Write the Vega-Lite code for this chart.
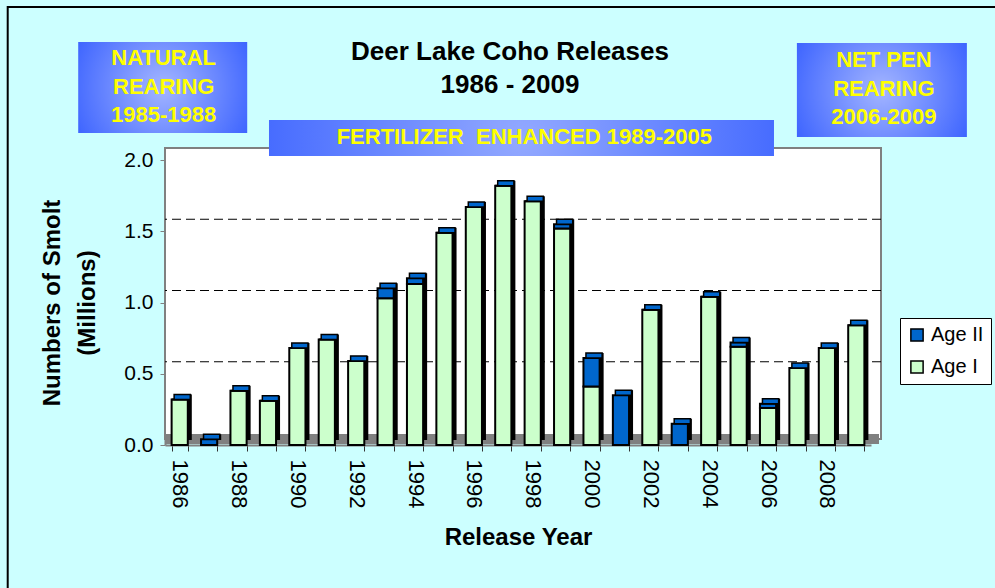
{
  "$schema": "https://vega.github.io/schema/vega-lite/v6.json",
  "autosize": {"type": "none"},
  "padding": {"left": 165, "top": 160, "right": 124, "bottom": 143},
  "width": 706,
  "height": 285,
  "background": "#CCFFFF",
  "title": {
    "text": ["Deer Lake Coho Releases", "1986 - 2009"],
    "fontSize": 26,
    "fontWeight": "bold",
    "color": "black",
    "anchor": "middle",
    "frame": "group",
    "lineHeight": 33,
    "dx": -8,
    "offset": -92
  },
  "config": {
    "font": "Liberation Sans",
    "view": {"stroke": null}
  },
  "datasets": {
    "smolt": [
      {"year": 1986, "age": "Age I", "value": 0.32}, {"year": 1986, "age": "Age II", "value": 0},
      {"year": 1987, "age": "Age I", "value": 0}, {"year": 1987, "age": "Age II", "value": 0.04},
      {"year": 1988, "age": "Age I", "value": 0.38}, {"year": 1988, "age": "Age II", "value": 0},
      {"year": 1989, "age": "Age I", "value": 0.31}, {"year": 1989, "age": "Age II", "value": 0},
      {"year": 1990, "age": "Age I", "value": 0.68}, {"year": 1990, "age": "Age II", "value": 0},
      {"year": 1991, "age": "Age I", "value": 0.74}, {"year": 1991, "age": "Age II", "value": 0},
      {"year": 1992, "age": "Age I", "value": 0.59}, {"year": 1992, "age": "Age II", "value": 0},
      {"year": 1993, "age": "Age I", "value": 1.03}, {"year": 1993, "age": "Age II", "value": 0.07},
      {"year": 1994, "age": "Age I", "value": 1.13}, {"year": 1994, "age": "Age II", "value": 0.04},
      {"year": 1995, "age": "Age I", "value": 1.49}, {"year": 1995, "age": "Age II", "value": 0},
      {"year": 1996, "age": "Age I", "value": 1.67}, {"year": 1996, "age": "Age II", "value": 0},
      {"year": 1997, "age": "Age I", "value": 1.82}, {"year": 1997, "age": "Age II", "value": 0},
      {"year": 1998, "age": "Age I", "value": 1.71}, {"year": 1998, "age": "Age II", "value": 0},
      {"year": 1999, "age": "Age I", "value": 1.52}, {"year": 1999, "age": "Age II", "value": 0.03},
      {"year": 2000, "age": "Age I", "value": 0.41}, {"year": 2000, "age": "Age II", "value": 0.2},
      {"year": 2001, "age": "Age I", "value": 0}, {"year": 2001, "age": "Age II", "value": 0.35},
      {"year": 2002, "age": "Age I", "value": 0.95}, {"year": 2002, "age": "Age II", "value": 0},
      {"year": 2003, "age": "Age I", "value": 0}, {"year": 2003, "age": "Age II", "value": 0.15},
      {"year": 2004, "age": "Age I", "value": 1.04}, {"year": 2004, "age": "Age II", "value": 0},
      {"year": 2005, "age": "Age I", "value": 0.69}, {"year": 2005, "age": "Age II", "value": 0.03},
      {"year": 2006, "age": "Age I", "value": 0.26}, {"year": 2006, "age": "Age II", "value": 0.03},
      {"year": 2007, "age": "Age I", "value": 0.54}, {"year": 2007, "age": "Age II", "value": 0},
      {"year": 2008, "age": "Age I", "value": 0.68}, {"year": 2008, "age": "Age II", "value": 0},
      {"year": 2009, "age": "Age I", "value": 0.84}, {"year": 2009, "age": "Age II", "value": 0}
    ]
  },
  "layer": [
    {
      "data": {"name": "smolt"},
      "mark": {"type": "bar", "opacity": 0},
      "encoding": {
        "x": {
          "field": "year",
          "type": "ordinal",
          "title": "Release Year",
          "scale": {"paddingInner": 0.45, "paddingOuter": 0.225},
          "axis": {
            "labelAngle": 90,
            "labelAlign": "left",
            "labelBaseline": "middle",
            "labelFontSize": 22,
            "labelColor": "black",
            "labelPadding": 8,
            "labelOverlap": false,
            "labelExpr": "datum.value % 2 == 0 ? datum.label : ''",
            "tickBand": "extent",
            "tickSize": 6,
            "tickColor": "#333333",
            "domainColor": "#808080",
            "domainWidth": 2,
            "titleFontSize": 24,
            "titleFontWeight": "bold",
            "titleColor": "black",
            "titlePadding": 18
          }
        },
        "y": {
          "aggregate": "sum",
          "field": "value",
          "type": "quantitative",
          "title": ["Numbers of Smolt", "(Millions)"],
          "scale": {"domain": [0, 2], "nice": false},
          "axis": {
            "values": [0, 0.5, 1, 1.5, 2],
            "format": ".1f",
            "grid": false,
            "labelFontSize": 21,
            "labelColor": "black",
            "labelPadding": 7,
            "tickSize": 5,
            "tickColor": "#808080",
            "domainColor": "#808080",
            "domainWidth": 2,
            "titleFontSize": 24,
            "titleFontWeight": "bold",
            "titleColor": "black",
            "titleLineHeight": 35,
            "titlePadding": 24
          }
        }
      }
    },
    {
      "data": {"values": [{}]},
      "mark": {"type": "rect", "filled": false, "stroke": "black", "strokeWidth": 2, "xOffset": -172, "x2Offset": 300, "yOffset": -153, "y2Offset": 200},
      "encoding": {
        "x": {"datum": 1986, "type": "ordinal"},
        "x2": {"datum": 2009},
        "y": {"datum": 2},
        "y2": {"datum": 0}
      }
    },
    {
      "data": {"values": [{}]},
      "mark": {"type": "rect", "color": "white", "stroke": "#808080", "strokeWidth": 2, "xOffset": 10, "x2Offset": 3, "yOffset": -12, "y2Offset": -6},
      "encoding": {
        "y": {"datum": 2},
        "y2": {"datum": 0}
      }
    },
    {
      "data": {"values": [{}]},
      "mark": {"type": "rect", "color": "#808080", "xOffset": 8, "x2Offset": 1, "yOffset": -11, "y2Offset": -1},
      "encoding": {
        "y": {"datum": 0},
        "y2": {"datum": 0}
      }
    },
    {
      "data": {"values": [{"g": 0.5}, {"g": 1.0}, {"g": 1.5}]},
      "mark": {"type": "rule", "color": "black", "strokeWidth": 1, "strokeDash": [9, 5], "yOffset": -12, "xOffset": 10, "x2Offset": 4},
      "encoding": {
        "y": {"field": "g", "type": "quantitative"}
      }
    },
    {
      "data": {"name": "smolt"},
      "transform": [
        {"aggregate": [{"op": "sum", "field": "value", "as": "total"}], "groupby": ["year"]}
      ],
      "mark": {"type": "bar", "color": "black", "xOffset": 4, "yOffset": -5, "y2Offset": -5},
      "encoding": {
        "x": {"field": "year", "type": "ordinal"},
        "y": {"field": "total", "type": "quantitative"},
        "y2": {"datum": 0}
      }
    },
    {
      "data": {"name": "smolt"},
      "mark": {"type": "bar", "stroke": "black", "strokeWidth": 2},
      "encoding": {
        "x": {"field": "year", "type": "ordinal"},
        "y": {"aggregate": "sum", "field": "value", "type": "quantitative", "stack": "zero"},
        "color": {
          "field": "age",
          "type": "nominal",
          "scale": {"domain": ["Age II", "Age I"], "range": ["#0066CC", "#CCFFCC"]},
          "legend": {
            "orient": "none",
            "legendX": 735,
            "legendY": 158,
            "title": null,
            "symbolType": "square",
            "symbolSize": 150,
            "symbolStrokeColor": "black",
            "symbolStrokeWidth": 1.5,
            "symbolOpacity": 1,
            "labelFontSize": 20,
            "labelColor": "black",
            "labelOffset": 4,
            "fillColor": "white",
            "strokeColor": "black",
            "padding": 7,
            "rowPadding": 12
          }
        },
        "order": {"field": "age", "sort": "ascending"}
      }
    },
    {
      "data": {"name": "smolt"},
      "transform": [
        {"aggregate": [{"op": "sum", "field": "value", "as": "total"}], "groupby": ["year"]}
      ],
      "mark": {"type": "bar", "color": "#0066CC", "stroke": "black", "strokeWidth": 1.5, "xOffset": 2.5, "yOffset": -5, "y2Offset": 0},
      "encoding": {
        "x": {"field": "year", "type": "ordinal"},
        "y": {"field": "total", "type": "quantitative"},
        "y2": {"field": "total"}
      }
    },
    {
      "data": {"values": [{"label": ["NATURAL", "REARING", "1985-1988"]}]},
      "encoding": {
        "x": {"datum": 1986, "type": "ordinal"},
        "y": {"datum": 2.509, "type": "quantitative"}
      },
      "layer": [
        {
          "mark": {
            "type": "point",
            "shape": "M-1,-0.5385L1,-0.5385L1,0.5385L-1,0.5385Z",
            "size": 28561,
            "filled": true,
            "opacity": 1,
            "strokeWidth": 0,
            "xOffset": -17,
            "fill": {"gradient": "radial", "x1": 0.5, "y1": 0.5, "x2": 0.5, "y2": 0.5, "r1": 0, "r2": 0.6,
              "stops": [{"offset": 0, "color": "#A3B5FF"}, {"offset": 1, "color": "#3860FF"}]}
          }
        },
        {
          "mark": {"type": "text", "align": "center", "baseline": "middle", "fontSize": 22, "fontWeight": "bold", "color": "#FFFF00", "lineHeight": 28.5, "dx": -16, "dy": -29},
          "encoding": {"text": {"field": "label"}}
        }
      ]
    },
    {
      "data": {"values": [{"label": ["NET PEN", "REARING", "2006-2009"]}]},
      "encoding": {
        "x": {"datum": 2009, "type": "ordinal"},
        "y": {"datum": 2.491, "type": "quantitative"}
      },
      "layer": [
        {
          "mark": {
            "type": "point",
            "shape": "M-1,-0.553L1,-0.553L1,0.553L-1,0.553Z",
            "size": 28900,
            "filled": true,
            "opacity": 1,
            "strokeWidth": 0,
            "xOffset": 25.6,
            "fill": {"gradient": "radial", "x1": 0.5, "y1": 0.5, "x2": 0.5, "y2": 0.5, "r1": 0, "r2": 0.6,
              "stops": [{"offset": 0, "color": "#A3B5FF"}, {"offset": 1, "color": "#3860FF"}]}
          }
        },
        {
          "mark": {"type": "text", "align": "center", "baseline": "middle", "fontSize": 22, "fontWeight": "bold", "color": "#FFFF00", "lineHeight": 28.5, "dx": 27.6, "dy": -30},
          "encoding": {"text": {"field": "label"}}
        }
      ]
    },
    {
      "data": {"values": [{"label": "FERTILIZER \u00a0ENHANCED 1989-2005"}]},
      "encoding": {
        "x": {"datum": 1997, "type": "ordinal"},
        "y": {"datum": 2.154, "type": "quantitative"}
      },
      "layer": [
        {
          "mark": {
            "type": "point",
            "shape": "M-1,-0.0713L1,-0.0713L1,0.0713L-1,0.0713Z",
            "size": 255025,
            "filled": true,
            "opacity": 1,
            "strokeWidth": 0,
            "xOffset": 18.2,
            "fill": {"gradient": "radial", "x1": 0.5, "y1": 0.5, "x2": 0.5, "y2": 0.5, "r1": 0, "r2": 0.6,
              "stops": [{"offset": 0, "color": "#93A9FF"}, {"offset": 1, "color": "#3860FF"}]}
          }
        },
        {
          "mark": {"type": "text", "align": "center", "baseline": "middle", "fontSize": 22, "fontWeight": "bold", "color": "#FFFF00", "dx": 21, "dy": -1},
          "encoding": {"text": {"field": "label"}}
        }
      ]
    }
  ]
}
